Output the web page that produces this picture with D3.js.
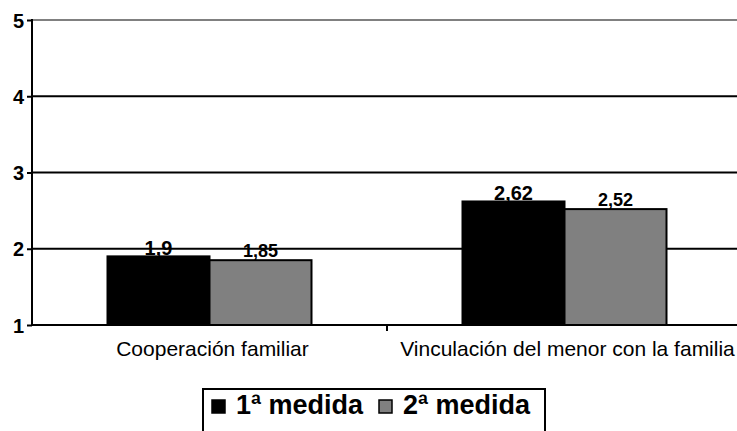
<!DOCTYPE html>
<html><head><meta charset="utf-8">
<script src="https://cdn.jsdelivr.net/npm/d3@7"></script>
<style>body{margin:0;background:#fff;} svg{display:block;font-family:"Liberation Sans",Arial,sans-serif;}</style>
</head><body>
<svg id="c" width="737" height="431"></svg>
<script>
const categories = ["Cooperación familiar", "Vinculación del menor con la familia"];
const seriesNames = ["1ª medida", "2ª medida"];
const medida1 = [1.9, 2.62];
const medida2 = [1.85, 2.52];
const valueLabels1 = ["1,9", "2,62"];
const valueLabels2 = ["1,85", "2,52"];
const yTicks = [1, 2, 3, 4, 5];
const colors = ["#000000", "#808080"];

(function () {
const svg = d3.select("#c");
const pLeft = 32, pRight = 742, pTop = 20, pBottom = 325;
const x = d3.scaleBand().domain(categories).range([pLeft, pRight]).paddingInner(0).paddingOuter(0);
const y = d3.scaleLinear().domain([1, 5]).range([pBottom, pTop]);
const barW = 102;

// gridlines
svg.append("g").selectAll("line").data(yTicks.filter(d => d > 1)).join("line")
  .attr("x1", pLeft).attr("x2", 737).attr("y1", d => y(d)).attr("y2", d => y(d))
  .attr("stroke", d => d === 5 ? "#808080" : "#000").attr("stroke-width", 2);

// bars
const series = [medida1, medida2];
const labels = [valueLabels1, valueLabels2];
const labelSize = [20, 18];
const labelLift = [1, 3];
series.forEach((vals, si) => {
  const g = svg.append("g");
  g.selectAll("rect").data(categories).join("rect")
    .attr("x", (c) => x(c) + x.bandwidth() / 2 - barW + si * barW)
    .attr("width", barW)
    .attr("y", (c, i) => y(vals[i]))
    .attr("height", (c, i) => y(1) - y(vals[i]))
    .attr("fill", colors[si]).attr("stroke", "#000").attr("stroke-width", 2);
  g.selectAll("text").data(categories).join("text")
    .attr("x", (c) => x(c) + x.bandwidth() / 2 - barW / 2 + si * barW)
    .attr("y", (c, i) => y(vals[i]) - labelLift[si])
    .attr("text-anchor", "middle").attr("font-weight", "bold").attr("font-size", labelSize[si])
    .text((c, i) => labels[si][i]);
});

// axes
const yAxis = d3.axisLeft(y).tickValues(yTicks).tickSize(5).tickPadding(3).tickFormat(d3.format("d"));
const ya = svg.append("g").attr("transform", `translate(${pLeft},0)`).call(yAxis);
ya.select(".domain").attr("stroke-width", 2).attr("d", `M0,${pTop - 1}V${pBottom + 1}`);
ya.selectAll(".tick line").attr("stroke-width", 2);
ya.selectAll("text").attr("font-size", 20).attr("font-weight", "bold").attr("font-family", "Liberation Sans, Arial, sans-serif").attr("fill", "#000").attr("dy", "0.36em");

svg.append("line").attr("x1", pLeft).attr("x2", 737).attr("y1", pBottom).attr("y2", pBottom).attr("stroke", "#000").attr("stroke-width", 2);
// category separators
svg.append("g").selectAll("line").data(categories.slice(1)).join("line")
  .attr("x1", c => x(c)).attr("x2", c => x(c)).attr("y1", pBottom).attr("y2", pBottom + 6)
  .attr("stroke", "#000").attr("stroke-width", 2);
svg.append("g").selectAll("text").data(categories).join("text")
  .attr("x", c => x(c) + x.bandwidth() / 2 + 3).attr("y", 356)
  .attr("text-anchor", "middle").attr("font-size", 21).text(c => c);

// legend
const lg = svg.append("g");
lg.append("rect").attr("x", 203).attr("y", 389).attr("width", 342).attr("height", 60)
  .attr("fill", "#fff").attr("stroke", "#000").attr("stroke-width", 2);
const legX = [212, 379];
seriesNames.forEach((n, i) => {
  lg.append("rect").attr("x", legX[i]).attr("y", 400).attr("width", 13).attr("height", 13)
    .attr("fill", colors[i]).attr("stroke", "#000").attr("stroke-width", 1.5);
  lg.append("text").attr("x", legX[i] + 24).attr("y", 414).attr("font-size", 27).attr("font-weight", "bold").text(n);
});
})();
</script>
</body></html>
